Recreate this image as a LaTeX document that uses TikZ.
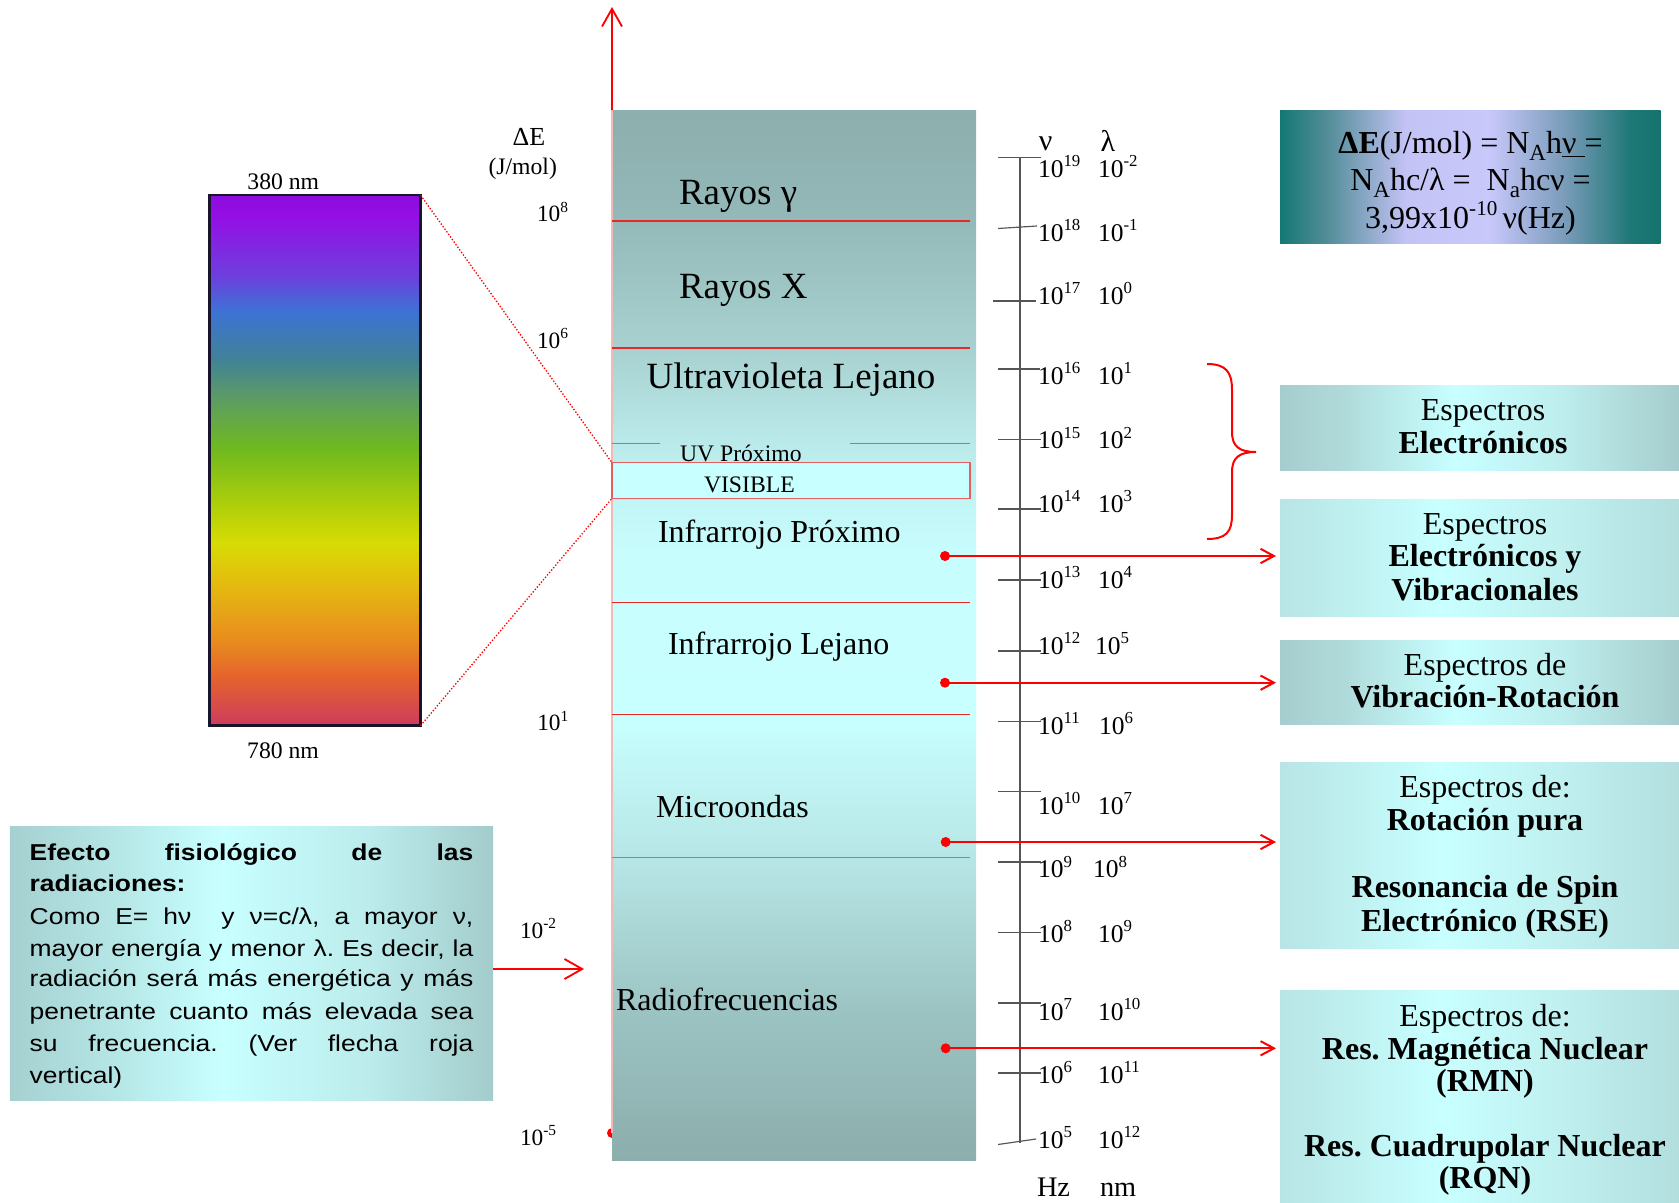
\documentclass[tikz,border=0pt]{standalone}
\usepackage{fontspec}
\setmainfont{Liberation Serif}
\newfontfamily\arialx[FakeStretch=1.15]{Liberation Sans}
\usepackage{graphicx}
\usetikzlibrary{arrows.meta,calc}
\frenchspacing

\newcommand\spx[1]{\raisebox{0.4em}{\scalebox{0.66}{#1}}}
\newcommand\sbx[1]{\raisebox{-0.22em}{\scalebox{0.72}{#1}}}
\newcommand\efont{\arialx\fontsize{13.8pt}{16pt}\selectfont}

% column colours
\definecolor{c25}{RGB}{140,174,172}
\definecolor{c32}{RGB}{155,195,194}
\definecolor{c39}{RGB}{182,228,228}
\definecolor{c46}{RGB}{200,255,255}
\definecolor{c54}{RGB}{200,253,253}
\definecolor{c58}{RGB}{188,237,237}
\definecolor{c63}{RGB}{168,210,209}
\definecolor{c70}{RGB}{147,184,183}
\definecolor{c75}{RGB}{141,175,174}
\pgfdeclareverticalshading{colsh}{100bp}{color(0bp)=(c25); color(25bp)=(c25); color(32bp)=(c32); color(39bp)=(c39); color(46bp)=(c46); color(54bp)=(c54); color(58.5bp)=(c58); color(63.5bp)=(c63); color(70bp)=(c70); color(75bp)=(c75); color(100bp)=(c75)}

% spectrum colours
\definecolor{s01}{RGB}{205,60,95}
\definecolor{s02}{RGB}{228,98,45}
\definecolor{s03}{RGB}{232,140,30}
\definecolor{s04}{RGB}{228,188,15}
\definecolor{s05}{RGB}{215,220,5}
\definecolor{s06}{RGB}{172,206,10}
\definecolor{s07}{RGB}{112,186,30}
\definecolor{s08}{RGB}{92,155,102}
\definecolor{s09}{RGB}{65,130,150}
\definecolor{s10}{RGB}{60,115,212}
\definecolor{s11}{RGB}{110,62,222}
\definecolor{s12}{RGB}{148,15,228}
\definecolor{s13}{RGB}{140,12,222}
\pgfdeclareverticalshading{barsh}{100bp}{color(0bp)=(s01); color(25bp)=(s01); color(29.5bp)=(s02); color(33bp)=(s03); color(38.5bp)=(s04); color(42.25bp)=(s05); color(46bp)=(s06); color(51bp)=(s07); color(56bp)=(s08); color(59.5bp)=(s09); color(64bp)=(s10); color(67.5bp)=(s11); color(73bp)=(s12); color(75bp)=(s13); color(100bp)=(s13)}

% box colours
\definecolor{e1}{RGB}{165,208,208}
\definecolor{e2}{RGB}{180,228,228}
\definecolor{e3}{RGB}{200,255,255}
\definecolor{e4}{RGB}{188,236,236}
\definecolor{e5}{RGB}{163,204,204}
\pgfdeclarehorizontalshading{effsh}{100bp}{color(0bp)=(e1); color(25bp)=(e1); color(35bp)=(e2); color(47bp)=(e3); color(62bp)=(e4); color(75bp)=(e5); color(100bp)=(e5)}
\definecolor{r1}{RGB}{166,205,205}
\definecolor{r2}{RGB}{176,218,218}
\definecolor{r3}{RGB}{200,255,255}
\definecolor{r4}{RGB}{190,238,238}
\definecolor{r5}{RGB}{165,204,204}
\pgfdeclarehorizontalshading{rsh}{100bp}{color(0bp)=(r1); color(25bp)=(r1); color(33bp)=(r2); color(47bp)=(r3); color(60bp)=(r4); color(75bp)=(r5); color(100bp)=(r5)}
\definecolor{q1}{RGB}{184,228,228}
\definecolor{q4}{RGB}{192,240,240}
\definecolor{q5}{RGB}{178,222,222}
\pgfdeclarehorizontalshading{rsh2}{100bp}{color(0bp)=(q1); color(25bp)=(q1); color(45bp)=(r3); color(60bp)=(q4); color(75bp)=(q5); color(100bp)=(q5)}
\definecolor{f1}{RGB}{20,120,115}
\definecolor{f2}{RGB}{80,140,150}
\definecolor{f3}{RGB}{195,195,245}
\definecolor{f4}{RGB}{200,200,250}
\definecolor{f5}{RGB}{120,155,185}
\definecolor{f6}{RGB}{30,120,118}
\definecolor{f7}{RGB}{20,115,110}
\pgfdeclarehorizontalshading{fsh}{100bp}{color(0bp)=(f1); color(25bp)=(f1); color(31bp)=(f2); color(41.5bp)=(f3); color(52.5bp)=(f4); color(62.5bp)=(f5); color(71bp)=(f6); color(75bp)=(f7); color(100bp)=(f7)}

\definecolor{sepred}{RGB}{235,40,40}
\definecolor{uvred}{RGB}{228,95,95}
\definecolor{visfill}{RGB}{200,255,255}
\definecolor{axc}{RGB}{85,85,85}
\definecolor{barb}{RGB}{25,20,45}
\definecolor{edgepink}{RGB}{242,185,185}

\begin{document}
\begin{tikzpicture}[x=0.6pt,y=-0.6pt,
  lbl/.style={inner sep=0pt,outer sep=0pt,anchor=base west},
  clbl/.style={inner sep=0pt,outer sep=0pt,anchor=base},
  rbox/.style={inner sep=0pt,outer sep=0pt,draw=none,minimum width=239.4pt},
  sepline/.style={sepred,line width=0.7pt},
  rarr/.style={red,line width=1.2pt,-{Straight Barb[length=8pt,width=8.6pt]}},
  bigarr/.style={red,line width=1.1pt,-{Straight Barb[length=10.6pt,width=12pt]}},
  reddot/.style={circle,fill=red,draw=none,inner sep=0pt,minimum size=6pt},
  big/.style={font=\fontsize{22.2pt}{26pt}\selectfont},
  mid/.style={font=\fontsize{19.2pt}{23pt}\selectfont},
  sml/.style={font=\fontsize{14.2pt}{17pt}\selectfont},
  axl/.style={lbl,font=\fontsize{15.3pt}{18pt}\selectfont},
  rtxt/.style={clbl,font=\fontsize{19.2pt}{23pt}\selectfont},
  etxt/.style={lbl,font=\efont},
  dotred/.style={red,line width=0.8pt,dash pattern=on 0.8pt off 1.1pt},
]
\useasboundingbox (0,0) rectangle (1679,1203);

% vertical energy arrow (mostly hidden behind the column)
\node[reddot] (d0) at (612,1133) {};
\coordinate (tip) at (612,7);
\draw[bigarr] (d0.center) -- (tip);

% central column
\node[inner sep=0pt,outer sep=0pt,shading=colsh,minimum width=218.4pt,minimum height=630pt] (col) at (794,635) {};
\draw[edgepink,line width=1.2pt] (col.north west) -- (col.south west |- d0);

% separators
\draw[sepline] (612,221) -- (970,221);
\draw[sepline] (612,348) -- (970,348);
\draw[uvred,line width=0.9pt] (612,443.7) -- (660,443.7);
\draw[uvred,line width=0.9pt] (850,443.7) -- (970,443.7);
\node[inner sep=0pt,outer sep=0pt,fill=visfill,draw=uvred,line width=0.7pt,minimum width=214.8pt,minimum height=21.4pt] (vis) at (791,480.5) {};
\draw[sepline] (612,602.7) -- (970,602.7);
\draw[sepline] (612,714.3) -- (970,714.3);
\draw[sepred!75!white,line width=0.8pt] (612,857.7) -- (970,857.7);

% column labels
\node[lbl,big] (gam) at (679,204) {Rayos γ};
\node[lbl,big] (xr) at (679,298.3) {Rayos X};
\node[lbl,big] (uvl) at (646.7,388) {Ultravioleta Lejano};
\node[lbl,sml] (uvp) at (680,461) {UV Próximo};
\node[lbl,sml] (vistxt) at (704,492.7) {VISIBLE};
\node[lbl,mid] (irp) at (658,542.7) {Infrarrojo Próximo};
\node[lbl,mid] (irl) at (668,654) {Infrarrojo Lejano};
\node[lbl,mid] (mic) at (656,817.3) {Microondas};
\node[lbl,mid] (rad) at (616,1010) {Radiofrecuencias};

% energy axis labels
\node[clbl,font=\fontsize{15.6pt}{18pt}\selectfont] (de) at (529,145.7) {ΔE};
\node[clbl,sml] (jm) at (522.7,175) {(J/mol)};
\node[lbl,font=\fontsize{14pt}{17pt}\selectfont] (e8) at (537,221.7) {10\spx{8}};
\node[lbl,font=\fontsize{14pt}{17pt}\selectfont] (e6) at (537,348.3) {10\spx{6}};
\node[lbl,font=\fontsize{14pt}{17pt}\selectfont] (e1) at (537.3,730.7) {10\spx{1}};
\node[lbl,font=\fontsize{14pt}{17pt}\selectfont] (em2) at (520,938.3) {10\spx{-2}};
\node[lbl,font=\fontsize{14pt}{17pt}\selectfont] (em5) at (520,1145) {10\spx{-5}};

% visible spectrum bar
\node[inner sep=0pt,outer sep=0pt,shading=barsh,draw=barb,line width=1.5pt,minimum width=126.8pt,minimum height=318.2pt] (bar) at (315,460.4) {};
\node[clbl,sml] (n380) at (283.3,189.9) {380 nm};
\node[clbl,sml] (n780) at (283,758) {780 nm};
\draw[dotred] (bar.north east) -- (vis.north west);
\draw[dotred] (bar.south east) -- (vis.south west);

% frequency / wavelength axis
\draw[axc,line width=0.7pt] (1020,157.5) -- (1020,1143);
\foreach \yy/\xa/\xb in {157.5/998/1041,301/993/1036,369/998/1040,439.6/998/1041,509/998/1041,580/998/1041,651/998/1041,721.6/998/1041,791.6/998/1041,862/998/1041,932.5/998/1041,1003/998/1041,1073/998/1041}
  \draw[axc,line width=0.7pt] (\xa,\yy) -- (\xb,\yy);
\draw[axc,line width=0.7pt] (998,228.5) -- (1037,226);
\draw[axc,line width=0.7pt] (998,1144.5) -- (1036,1139);
\node[clbl,font=\fontsize{18pt}{20pt}\selectfont] (nuh) at (1045.7,150) {ν};
\node[clbl,font=\fontsize{18pt}{20pt}\selectfont] (lah) at (1108,151) {λ};
\foreach \e/\yb/\l/\lx [count=\i] in {19/177/-2/1098,18/241/-1/1098,17/304/0/1098,16/384/1/1098,15/448.6/2/1098,14/512/3/1098,13/588/4/1098,12/654/5/1095,11/734/6/1099,10/814/7/1098,9/877.5/8/1093,8/942/9/1098,7/1020/10/1098,6/1083/11/1098,5/1148/12/1098}{
  \node[axl] (nu\i) at (1038,\yb) {10\spx{\e}};
  \node[axl] (la\i) at (\lx,\yb) {10\spx{\l}};
}
\node[lbl,font=\fontsize{17pt}{20pt}\selectfont] (hz) at (1037,1196) {Hz};
\node[lbl,font=\fontsize{17pt}{20pt}\selectfont] (nm) at (1100,1196) {nm};

% brace
\draw[red,line width=1.2pt] (1207,364) .. controls (1226,364) and (1232,372) .. (1232,390) -- (1232,432)
  .. controls (1232,447) and (1240,452) .. (1256,452)
  .. controls (1240,452) and (1232,457) .. (1232,472) -- (1232,515)
  .. controls (1232,532) and (1226,539) .. (1207,539);

% formula box
\node[inner sep=0pt,outer sep=0pt,shading=fsh,minimum width=228.4pt,minimum height=80.4pt] (fbox) at (1470.35,177) {};
\node[rtxt] (f1t) at (1470.5,153.3) {\textbf{ΔE}(J/mol) = N\sbx{A}h\underline{ν\hspace{0.25em}}=};
\node[rtxt] (f2t) at (1470.5,190) {N\sbx{A}hc/λ =\ \ N\sbx{a}hcν =};
\node[rtxt] (f3t) at (1470.5,228.3) {3,99x10\spx{-10}\,ν(Hz)};

% right boxes
\node[rbox,shading=rsh,minimum height=50.6pt] (b1) at (1479.5,427.85) {};
\node[rbox,shading=rsh2,minimum height=70.4pt] (b2) at (1479.5,558) {};
\node[rbox,shading=rsh,minimum height=50.4pt] (b3) at (1479.5,682) {};
\node[rbox,shading=rsh2,minimum height=112pt] (b4) at (1479.5,855.65) {};
\node[rbox,shading=rsh2,minimum height=127.4pt] (b5) at (1479.5,1096.85) {};

\node[rtxt] (t11) at (1483,420.7) {Espectros};
\node[rtxt] (t12) at (1483,453.3) {\textbf{Electrónicos}};
\node[rtxt] (t21) at (1485,534) {Espectros};
\node[rtxt] (t22) at (1485,566.7) {\textbf{Electrónicos y}};
\node[rtxt] (t23) at (1485,600) {\textbf{Vibracionales}};
\node[rtxt] (t31) at (1485,675) {Espectros de};
\node[rtxt] (t32) at (1485,707.3) {\textbf{Vibración-Rotación}};
\node[rtxt] (t41) at (1485,797.3) {Espectros de:};
\node[rtxt] (t42) at (1485,830.7) {\textbf{Rotación pura}};
\node[rtxt] (t43) at (1485,897.3) {\textbf{Resonancia de Spin}};
\node[rtxt] (t44) at (1485,931.7) {\textbf{Electrónico (RSE)}};
\node[rtxt] (t51) at (1485,1026.7) {Espectros de:};
\node[rtxt] (t52) at (1485,1059.3) {\textbf{Res. Magnética Nuclear}};
\node[rtxt] (t53) at (1485,1091.7) {\textbf{(RMN)}};
\node[rtxt] (t54) at (1485,1156.7) {\textbf{Res. Cuadrupolar Nuclear}};
\node[rtxt] (t55) at (1485,1188.3) {\textbf{(RQN)}};

% dots and arrows to the boxes
\node[reddot] (d1) at (945,556) {};
\node[reddot] (d2) at (945,682.7) {};
\node[reddot] (d3) at (945.7,842) {};
\node[reddot] (d4) at (945.7,1048.3) {};
\draw[rarr,shorten >=2.4pt] (d1.center) -- (d1 -| b2.west);
\draw[rarr,shorten >=2.4pt] (d2.center) -- (d2 -| b3.west);
\draw[rarr,shorten >=2.4pt] (d3.center) -- (d3 -| b4.west);
\draw[rarr,shorten >=2.4pt] (d4.center) -- (d4 -| b5.west);

% effect box
\node[inner sep=0pt,outer sep=0pt,shading=effsh,minimum width=289.9pt,minimum height=164.8pt] (eff) at (251.45,963.35) {};
\node[etxt] (l1) at (29.7,860) {\makebox[266.2pt][s]{\textbf{Efecto fisiológico de las}}};
\node[etxt] (l2) at (29.7,891.7) {\textbf{radiaciones:}};
\node[etxt] (l3) at (29.7,924) {\makebox[266.2pt][s]{Como E= hν\ \ y ν=c/λ, a mayor ν,}};
\node[etxt] (l4) at (29.7,956) {\makebox[266.2pt][s]{mayor energía y menor λ. Es decir, la}};
\node[etxt] (l5) at (29.7,986.7) {\makebox[266.2pt][s]{radiación será más energética y más}};
\node[etxt] (l6) at (29.7,1019.3) {\makebox[266.2pt][s]{penetrante cuanto más elevada sea}};
\node[etxt] (l7) at (29.7,1051.7) {\makebox[266.2pt][s]{su frecuencia. (Ver flecha roja}};
\node[etxt] (l8) at (29.7,1083.3) {vertical)};
\coordinate (effarr) at (584,969);
\draw[bigarr] (eff.east |- effarr) -- (effarr);
\end{tikzpicture}
\end{document}
